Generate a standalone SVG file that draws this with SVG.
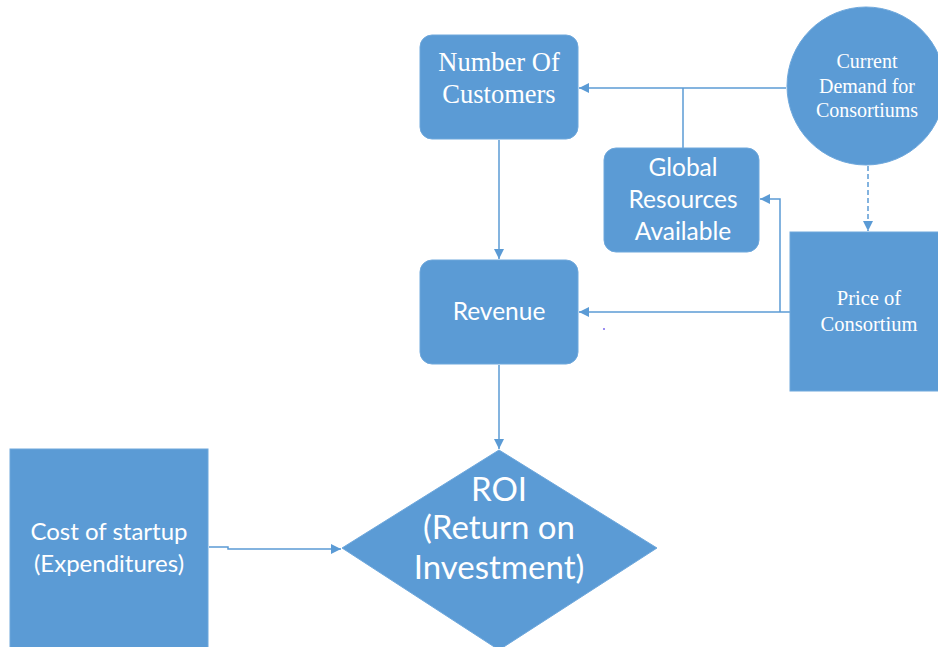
<svg xmlns="http://www.w3.org/2000/svg" width="938" height="647" viewBox="0 0 938 647">
<defs>
<marker id="arr" viewBox="0 0 10 10" refX="10" refY="5" markerWidth="10" markerHeight="10" markerUnits="userSpaceOnUse" orient="auto">
<path d="M0,0 L10,5 L0,10 z" fill="#5B9BD5"/>
</marker>
</defs>
<style>
.shape{fill:#5B9BD5;stroke:#6fa8dc;stroke-width:1}
.conn{fill:none;stroke:#5B9BD5;stroke-width:1.5}
.serif{font-family:"Liberation Serif","Times New Roman",serif;fill:#fff;text-anchor:middle}
.sans{font-family:Lato,"Open Sans",sans-serif;fill:#fff;text-anchor:middle}
</style>
<rect width="938" height="647" fill="#fff"/>
<g id="connectors">
<path class="conn" d="M786,88 L579,88" marker-end="url(#arr)"/>
<path class="conn" d="M683,148 L683,88"/>
<path class="conn" d="M868,166 L868,231" stroke-dasharray="5,3" marker-end="url(#arr)"/>
<path class="conn" d="M790,312 L579,312" marker-end="url(#arr)"/>
<path class="conn" d="M780,312 L780,199 L760,199" marker-end="url(#arr)"/>
<path class="conn" d="M499,140 L499,259" marker-end="url(#arr)"/>
<path class="conn" d="M499,365 L499,449" marker-end="url(#arr)"/>
<path class="conn" d="M209,547 L228,547 L228,549 L341,549" marker-end="url(#arr)"/>
</g>
<g id="number-of-customers">
<rect class="shape" x="420" y="35" width="158" height="104" rx="12"/>
<text class="serif" font-size="26.5" x="499" y="71">Number Of</text>
<text class="serif" font-size="26.5" x="499" y="103">Customers</text>
</g>
<g id="current-demand">
<circle class="shape" cx="866" cy="86" r="79"/>
<text class="serif" font-size="20" x="867" y="68">Current</text>
<text class="serif" font-size="20" x="867" y="93">Demand for</text>
<text class="serif" font-size="20" x="867" y="117">Consortiums</text>
</g>
<g id="global-resources">
<rect class="shape" x="604" y="148" width="155" height="104" rx="12"/>
<text class="sans" font-size="24.5" x="683" y="176">Global</text>
<text class="sans" font-size="24.5" x="683" y="208">Resources</text>
<text class="sans" font-size="24.5" x="683" y="240">Available</text>
</g>
<g id="price-of-consortium">
<rect class="shape" x="790" y="232" width="160" height="159"/>
<text class="serif" font-size="20.5" x="869" y="305">Price of</text>
<text class="serif" font-size="20.5" x="869" y="331">Consortium</text>
</g>
<g id="revenue">
<rect class="shape" x="420" y="260" width="158" height="104" rx="12"/>
<text class="sans" font-size="24.5" x="499" y="320">Revenue</text>
</g>
<g id="roi">
<polygon class="shape" points="499,450 657,548 499,650 342,548"/>
<text class="sans" font-size="33" x="499" y="501">ROI</text>
<text class="sans" font-size="33" x="499" y="539">(Return on</text>
<text class="sans" font-size="33" x="499" y="579">Investment)</text>
</g>
<g id="cost-of-startup">
<rect class="shape" x="10" y="449" width="198" height="202"/>
<text class="sans" font-size="24" x="109" y="540">Cost of startup</text>
<text class="sans" font-size="24" x="109" y="572">(Expenditures)</text>
</g>
<circle cx="604" cy="329" r="1" fill="#7b68ee"/>
</svg>
